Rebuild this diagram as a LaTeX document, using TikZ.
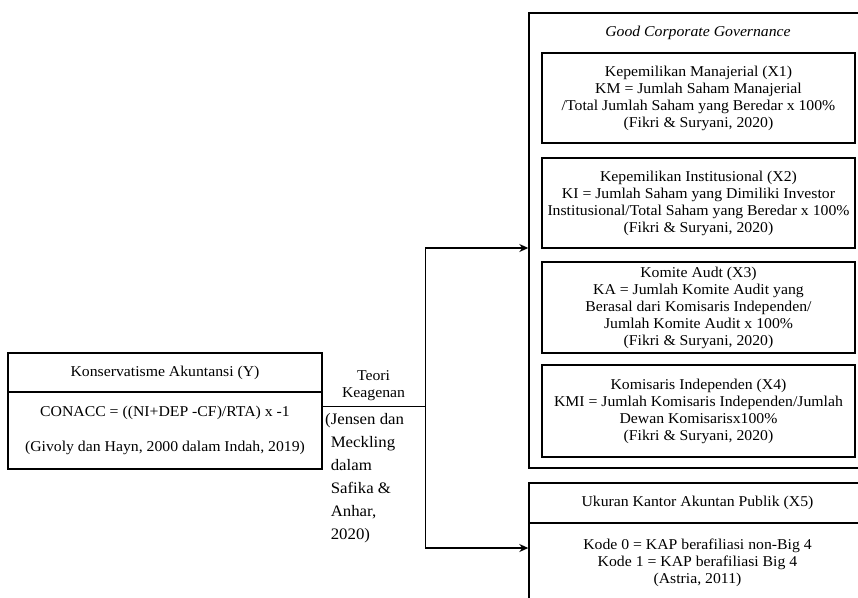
\documentclass[tikz,border=0pt]{standalone}
\usepackage{fontspec}
\setmainfont[FakeStretch=1.05]{Liberation Serif}
\usetikzlibrary{arrows.meta}
\begin{document}
\begin{tikzpicture}[x=1pt,y=-1pt]
	\tikzstyle{box}=[draw, line width=1.4pt, inner sep=0pt, align=center, font=\fontsize{15}{17}\selectfont]
	\tikzstyle{txt}=[inner sep=0pt, align=center, font=\fontsize{15}{17}\selectfont]
	\tikzstyle{arr}=[line width=1.4pt, -{Stealth[length=9pt,width=8pt]}]
	\useasboundingbox (0,0) rectangle (858,597);
	\clip (0,0) rectangle (858,597);
	% variabel Y
	\node[box, minimum width=314pt, minimum height=39pt] (kontitle) at (165,372.5) {Konservatisme Akuntansi (Y)};
	\node[box, minimum width=314pt, minimum height=77pt] (konbody) at (165,430.5) {CONACC = ((NI+DEP -CF)/RTA) x -1\\[18pt](Givoly dan Hayn, 2000 dalam Indah, 2019)};
	% teori
	\node[txt, minimum width=103pt, minimum height=40pt] (teori) at (373.5,386) {Teori\\Keagenan};
	\draw[line width=1.4pt] (teori.south west) -- (teori.south east);
	\node[txt, anchor=north west, align=left, font=\fontsize{16}{23}\selectfont] (sumber) at (325,413) {(Jensen dan\\\hphantom{(}Meckling\\\hphantom{(}dalam\\\hphantom{(}Safika \&\\\hphantom{(}Anhar,\\\hphantom{(}2020)};
	% GCG
	\node[box, minimum width=337pt, minimum height=455pt] (gcg) at (697.5,240.5) {};
	\node[txt, font=\fontsize{15}{17}\selectfont\itshape] (gcgtitle) at (698,33) {Good Corporate Governance};
	\node[box, minimum width=313pt, minimum height=90pt] (xsatu) at (698.5,98) {Kepemilikan Manajerial (X1)\\KM = Jumlah Saham Manajerial\\/Total Jumlah Saham yang Beredar x 100\%\\(Fikri \& Suryani, 2020)};
	\node[box, minimum width=313pt, minimum height=90pt] (xdua) at (698.5,203) {Kepemilikan Institusional (X2)\\KI = Jumlah Saham yang Dimiliki Investor\\Institusional/Total Saham yang Beredar x 100\%\\(Fikri \& Suryani, 2020)};
	\node[box, minimum width=313pt, minimum height=91pt] (xtiga) at (698.5,307.5) {Komite Audt (X3)\\KA = Jumlah Komite Audit yang\\Berasal dari Komisaris Independen/\\Jumlah Komite Audit x 100\%\\(Fikri \& Suryani, 2020)};
	\node[box, minimum width=313pt, minimum height=92pt] (xempat) at (698.5,411) {Komisaris Independen (X4)\\KMI = Jumlah Komisaris Independen/Jumlah\\Dewan Komisarisx100\%\\(Fikri \& Suryani, 2020)};
	% KAP
	\node[box, minimum width=337pt, minimum height=40pt] (kaptitle) at (697.5,503) {Ukuran Kantor Akuntan Publik (X5)};
	\node[box, minimum width=337pt, minimum height=80pt] (kapbody) at (697.5,563) {Kode 0 = KAP berafiliasi non-Big 4\\Kode 1 = KAP berafiliasi Big 4\\(Astria, 2011)};
	% panah
	\coordinate (gcgin) at (gcg.west |- 0,248);
	\coordinate (kapin) at (kapbody.west |- 0,548);
	\draw[arr] (teori.south east) |- (gcgin);
	\draw[arr] (teori.south east) |- (kapin);
\end{tikzpicture}
\end{document}
